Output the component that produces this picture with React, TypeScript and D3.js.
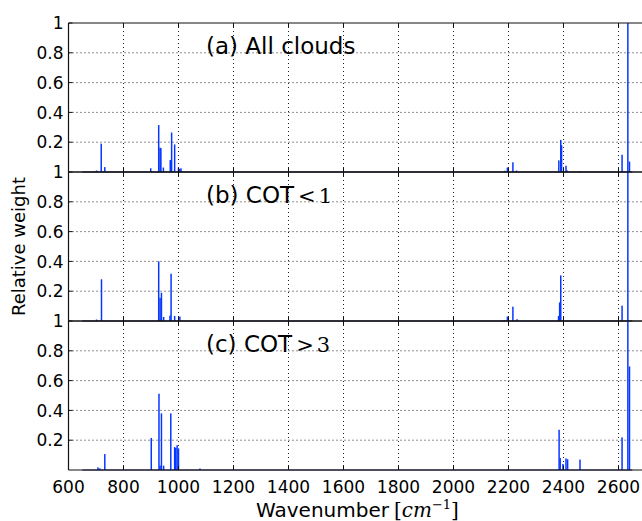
import React from "react";
import * as d3 from "d3";

const wnA = [702, 719, 732, 899, 928, 933, 936, 945, 970, 975, 986, 1000, 1004, 1009, 2187, 2196, 2216, 2229, 2383, 2390, 2393, 2409, 2414, 2460, 2613, 2634, 2640];
const wA = [0.01, 0.19, 0.033, 0.025, 0.315, 0.163, 0.16, 0.03, 0.08, 0.265, 0.185, 0.03, 0.02, 0.025, 0.008, 0.03, 0.065, 0.01, 0.078, 0.215, 0.18, 0.042, 0.01, 0.005, 0.116, 1.0, 0.07];

const wnB = [702, 720, 928, 933, 938, 946, 969, 973, 986, 1005, 2184, 2196, 2216, 2231, 2382, 2386, 2390, 2613, 2634];
const wB = [0.01, 0.28, 0.4, 0.155, 0.19, 0.027, 0.036, 0.317, 0.034, 0.03, 0.005, 0.03, 0.096, 0.012, 0.034, 0.125, 0.306, 0.103, 1.0];

const wnC = [707, 714, 732, 901, 929, 933, 938, 946, 972, 986, 990, 995, 1000, 1078, 2199, 2384, 2388, 2398, 2409, 2415, 2460, 2613, 2634, 2640];
const wC = [0.018, 0.011, 0.107, 0.215, 0.512, 0.03, 0.38, 0.029, 0.38, 0.154, 0.148, 0.166, 0.145, 0.01, 0.005, 0.27, 0.08, 0.04, 0.078, 0.072, 0.07, 0.219, 1.0, 0.695];

const xTicks = [600, 800, 1000, 1200, 1400, 1600, 1800, 2000, 2200, 2400, 2600];
const yTicks = [0.2, 0.4, 0.6, 0.8, 1];
const yTickLabels = ["0.2", "0.4", "0.6", "0.8", "1"];
const panelTitles = ["(a) All clouds", "(b) COT", "(c) COT"];
const panelOps = ["", "<", ">"];
const panelNums = ["", "1", "3"];

const W = 642;
const H = 521;
const left = 68.5;
const top = 23;
const panelH = 149;
const FONT = "DejaVu Sans, sans-serif";
const MATH = "DejaVu Serif, Liberation Serif, serif";
const BLUE = "#0636ff";

const x = d3.scaleLinear().domain([600, 2700]).range([left, left + 2100 * 0.275]);

export default function App() {
  const panels = [
    { wn: wnA, w: wA },
    { wn: wnB, w: wB },
    { wn: wnC, w: wC },
  ];
  const right = x(2700);
  return (
    <svg width={W} height={H} style={{ position: "absolute", left: 0, top: 0, background: "#fff" }}>
      {panels.map((p, i) => {
        const y0 = top + i * panelH;
        const y = d3.scaleLinear().domain([0, 1]).range([y0 + panelH, y0]);
        return (
          <g key={i}>
            {xTicks.slice(1).map((t) => (
              <line key={"gx" + t} x1={x(t)} x2={x(t)} y1={y(0)} y2={y(1)} stroke="#222" strokeWidth={1} strokeDasharray="1,3" />
            ))}
            {yTicks.slice(0, 4).map((t) => (
              <line key={"gy" + t} x1={left} x2={right} y1={y(t)} y2={y(t)} stroke="#222" strokeWidth={1} strokeDasharray="1,3" />
            ))}
            {p.wn.map((v, j) => {
              const bx = x(v - 2.7);
              const bw = x(v + 2.7) - bx;
              return <rect key={j} x={bx} y={y(p.w[j])} width={bw} height={y(0) - y(p.w[j])} fill={BLUE} />;
            })}
            <line x1={x(650)} x2={x(2650)} y1={y(0)} y2={y(0)} stroke="#1b1b5c" strokeWidth={1.2} />
            <line x1={left} x2={right} y1={y(1)} y2={y(1)} stroke="#111" strokeWidth={1.2} />
            <line x1={left} x2={right} y1={y(0)} y2={y(0)} stroke="#111" strokeWidth={1} />
            <line x1={left} x2={left} y1={y(0)} y2={y(1)} stroke="#111" strokeWidth={1.2} />
            {xTicks.map((t) => (
              <g key={"tx" + t}>
                <line x1={x(t)} x2={x(t)} y1={y(0)} y2={y(0) - 4} stroke="#111" />
                <line x1={x(t)} x2={x(t)} y1={y(1)} y2={y(1) + 4} stroke="#111" />
              </g>
            ))}
            {yTicks.map((t, k) => (
              <g key={"ty" + t}>
                <line x1={left} x2={left + 4} y1={y(t)} y2={y(t)} stroke="#111" />
                <text x={left - 5} y={y(t)} dy="0.36em" textAnchor="end" fontFamily={FONT} fontSize={17} fill="#000">
                  {yTickLabels[k]}
                </text>
              </g>
            ))}
            <text x={206} y={y0 + 30.5} fontFamily={FONT} fontSize={23} fill="#000">
              {panelTitles[i]}
              {panelOps[i] && (
                <tspan fontFamily={MATH} fontSize={21} dx={4}>
                  {panelOps[i]}
                </tspan>
              )}
              {panelNums[i] && (
                <tspan fontFamily={MATH} fontSize={21} dx={3}>
                  {panelNums[i]}
                </tspan>
              )}
            </text>
          </g>
        );
      })}
      {xTicks.map((t) => (
        <text key={"xl" + t} x={x(t)} y={top + 3 * panelH + 23} textAnchor="middle" fontFamily={FONT} fontSize={17} fill="#000">
          {t}
        </text>
      ))}
      <text x={256} y={517} fontFamily={FONT} fontSize={20} fill="#000">
        Wavenumber
        <tspan fontFamily={MATH} dx={5}>
          [
          <tspan fontStyle="italic">cm</tspan>
          <tspan fontSize={13} dy={-8}>−1</tspan>
          <tspan dy={8}>]</tspan>
        </tspan>
      </text>
      <text transform={`translate(25, ${top + 1.5 * panelH}) rotate(-90)`} textAnchor="middle" fontFamily={FONT} fontSize={18} fill="#000">
        Relative weight
      </text>
    </svg>
  );
}
